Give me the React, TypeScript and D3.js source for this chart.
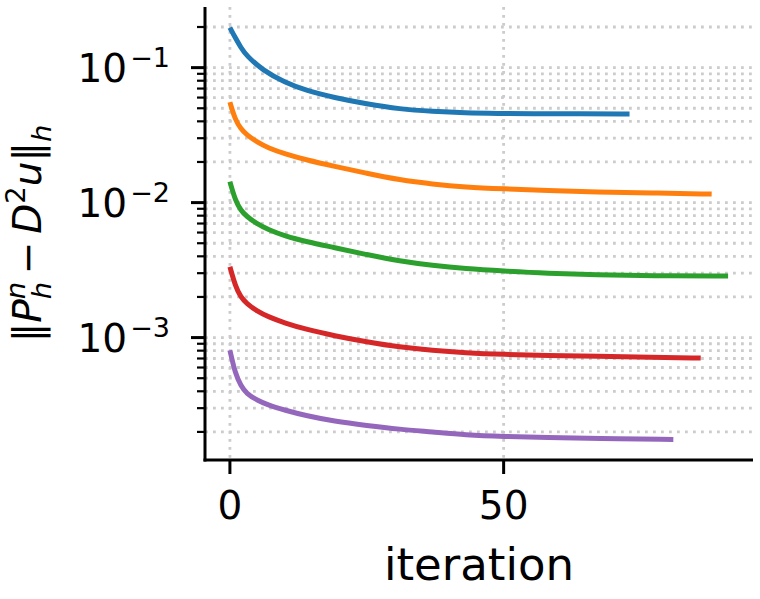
import React, { useEffect, useRef } from 'react';
import * as d3 from 'd3';

const W = 760;
const H = 599;

// Error history per refinement level: iteration index and error norm.
const blueIter = [0, 1, 2, 3, 6, 10, 14, 19, 25, 31, 37, 43, 49, 55, 64, 73];
const blueErr = [0.198, 0.166, 0.141, 0.123, 0.0955, 0.0778, 0.0675, 0.06, 0.0538, 0.0493, 0.0474, 0.0462, 0.0458, 0.0455, 0.0455, 0.0454];

const orangeIter = [0, 1, 2, 3, 5, 7, 10, 14, 19, 25, 31, 37, 43, 50, 58, 67, 77, 88];
const orangeErr = [0.0555, 0.0408, 0.0353, 0.0319, 0.028, 0.0254, 0.023, 0.0207, 0.0186, 0.01648, 0.01472, 0.01371, 0.01303, 0.01265, 0.01227, 0.01197, 0.01178, 0.01156];

const greenIter = [0, 1, 2, 3, 5, 7, 10, 14, 19, 25, 31, 37, 43, 50, 58, 67, 77, 91];
const greenErr = [0.01429, 0.01035, 0.00875, 0.00794, 0.00692, 0.00631, 0.00566, 0.00513, 0.00465, 0.00411, 0.00369, 0.00342, 0.003236, 0.00311, 0.00299, 0.00292, 0.00287, 0.002858];

const redIter = [0, 1, 2, 3, 5, 7, 10, 14, 19, 25, 31, 37, 43, 50, 58, 67, 77, 86];
const redErr = [0.00335, 0.0024, 0.001986, 0.001799, 0.001563, 0.001426, 0.001282, 0.001148, 0.001033, 0.000929, 0.000849, 0.000802, 0.000771, 0.00075, 0.000736, 0.000726, 0.000716, 0.000705];

const purpleIter = [0, 1, 2, 3, 5, 7, 10, 14, 19, 25, 31, 37, 43, 50, 58, 67, 81];
const purpleErr = [0.000805, 0.000535, 0.000442, 0.000385, 0.000343, 0.000316, 0.00029, 0.000263, 0.00024, 0.000223, 0.000209, 0.0002, 0.00019, 0.000185, 0.000182, 0.000179, 0.000176];

const seriesColors = ['#1f77b4', '#ff7f0e', '#2ca02c', '#d62728', '#9467bd'];

const xTicks = [0, 50];
const yMajorExps = [-1, -2, -3];

const FONT = 'DejaVu Sans';

export default function App() {
  const ref = useRef<SVGSVGElement | null>(null);

  useEffect(() => {
    const svg = d3.select(ref.current);
    svg.selectAll('*').remove();

    const series = [
      { it: blueIter, v: blueErr },
      { it: orangeIter, v: orangeErr },
      { it: greenIter, v: greenErr },
      { it: redIter, v: redErr },
      { it: purpleIter, v: purpleErr },
    ];

    const left = 205, right = 753, top = 7, bottom = 460;

    // autoscale with 5% margins (linear in x, logarithmic in y)
    const allIt = series.flatMap((s) => s.it);
    const allV = series.flatMap((s) => s.v);
    const xMin = d3.min(allIt)!, xMax = d3.max(allIt)!;
    const xPad = (xMax - xMin) * 0.05;
    const lMin = Math.log10(d3.min(allV)!), lMax = Math.log10(d3.max(allV)!);
    const lPad = (lMax - lMin) * 0.05;

    const x = d3.scaleLinear().domain([xMin - xPad, xMax + xPad]).range([left, right]);
    const y = d3.scaleLog().domain([Math.pow(10, lMin - lPad), Math.pow(10, lMax + lPad)]).range([bottom, top]);

    const [yLo, yHi] = y.domain();
    const minorVals: number[] = [];
    for (let k = -5; k <= 0; k++) {
      for (let m = 2; m <= 9; m++) {
        const v = m * Math.pow(10, k);
        if (v >= yLo && v <= yHi) minorVals.push(v);
      }
    }
    const majorVals = yMajorExps.map((e) => Math.pow(10, e));

    // grid
    const grid = svg.append('g');
    [...majorVals, ...minorVals].forEach((v) => {
      grid.append('line')
        .attr('x1', left).attr('x2', right)
        .attr('y1', y(v)).attr('y2', y(v))
        .attr('stroke', '#cccccc').attr('stroke-width', 2.8)
        .attr('stroke-dasharray', '2.8 5.2');
    });
    xTicks.forEach((t) => {
      grid.append('line')
        .attr('x1', x(t)).attr('x2', x(t))
        .attr('y1', top).attr('y2', bottom)
        .attr('stroke', '#cccccc').attr('stroke-width', 2.8)
        .attr('stroke-dasharray', '2.8 5.2');
    });

    // curves
    const line = d3.line<[number, number]>()
      .x((d) => x(d[0]))
      .y((d) => y(d[1]))
      .curve(d3.curveBasis);
    series.forEach((s, i) => {
      const pts = s.it.map((t, j) => [t, s.v[j]] as [number, number]);
      svg.append('path')
        .attr('d', line(pts))
        .attr('fill', 'none')
        .attr('stroke', seriesColors[i])
        .attr('stroke-width', 5)
        .attr('stroke-linejoin', 'round')
        .attr('stroke-linecap', 'butt');
    });

    // spines
    svg.append('line').attr('x1', left).attr('x2', left).attr('y1', top).attr('y2', bottom + 1.5)
      .attr('stroke', '#000').attr('stroke-width', 3);
    svg.append('line').attr('x1', left - 1.5).attr('x2', right).attr('y1', bottom).attr('y2', bottom)
      .attr('stroke', '#000').attr('stroke-width', 3);

    // y ticks
    majorVals.forEach((v, i) => {
      svg.append('line').attr('x1', left - 14).attr('x2', left).attr('y1', y(v)).attr('y2', y(v))
        .attr('stroke', '#000').attr('stroke-width', 3);
      const t = svg.append('text')
        .attr('x', 170).attr('y', y(v) + 14.5)
        .attr('text-anchor', 'end')
        .attr('font-family', FONT).attr('fill', '#000');
      t.append('tspan').attr('font-size', 39).text('10');
      t.append('tspan').attr('font-size', 27).attr('dx', 3).attr('dy', -15).text('\u2212' + String(-yMajorExps[i]));
    });
    minorVals.forEach((v) => {
      svg.append('line').attr('x1', left - 8).attr('x2', left).attr('y1', y(v)).attr('y2', y(v))
        .attr('stroke', '#000').attr('stroke-width', 2.2);
    });

    // x ticks
    xTicks.forEach((t) => {
      svg.append('line').attr('x1', x(t)).attr('x2', x(t)).attr('y1', bottom).attr('y2', bottom + 14)
        .attr('stroke', '#000').attr('stroke-width', 3);
      svg.append('text').attr('x', x(t)).attr('y', 519)
        .attr('text-anchor', 'middle')
        .attr('font-family', FONT).attr('font-size', 39).attr('fill', '#000')
        .text(String(t));
    });

    // x label
    svg.append('text').attr('x', (left + right) / 2).attr('y', 580)
      .attr('text-anchor', 'middle')
      .attr('font-family', FONT).attr('font-size', 45).attr('fill', '#000')
      .text('iteration');

    // y label: ‖P_h^n − D^2 u‖_h, laid out piece by piece
    const F = 39;
    const outer = svg.append('g').attr('transform', `translate(41, ${(top + bottom) / 2}) rotate(-90)`);
    const inner = outer.append('g');
    let cx = 0;
    const put = (s: string, opts: { size?: number; italic?: boolean; dy?: number; advance?: boolean }) => {
      const size = opts.size ?? F;
      const el = inner.append('text')
        .attr('x', cx).attr('y', -(opts.dy ?? 0))
        .attr('font-family', FONT).attr('font-size', size)
        .attr('font-style', opts.italic ? 'italic' : 'normal')
        .attr('fill', '#000')
        .text(s);
      const w = (el.node() as SVGTextElement).getComputedTextLength();
      if (opts.advance !== false) cx += w;
      return w;
    };
    put('\u2016', {});
    put('P', { italic: true });
    const wn = put('n', { size: F * 0.7, italic: true, dy: F * 0.42, advance: false });
    const wh = put('h', { size: F * 0.7, italic: true, dy: -F * 0.25, advance: false });
    cx += Math.max(wn, wh);
    cx += F * 0.2;
    put('\u2212', {});
    cx += F * 0.2;
    put('D', { italic: true });
    put('2', { size: F * 0.7, dy: F * 0.42 });
    put('u', { italic: true });
    put('\u2016', {});
    put('h', { size: F * 0.7, italic: true, dy: -F * 0.25 });
    inner.attr('transform', `translate(${-cx / 2}, 0)`);
  }, []);

  return (
    <svg
      ref={ref}
      width={W}
      height={H}
      viewBox={`0 0 ${W} ${H}`}
      style={{ position: 'absolute', left: 0, top: 0, background: '#fff' }}
    />
  );
}
